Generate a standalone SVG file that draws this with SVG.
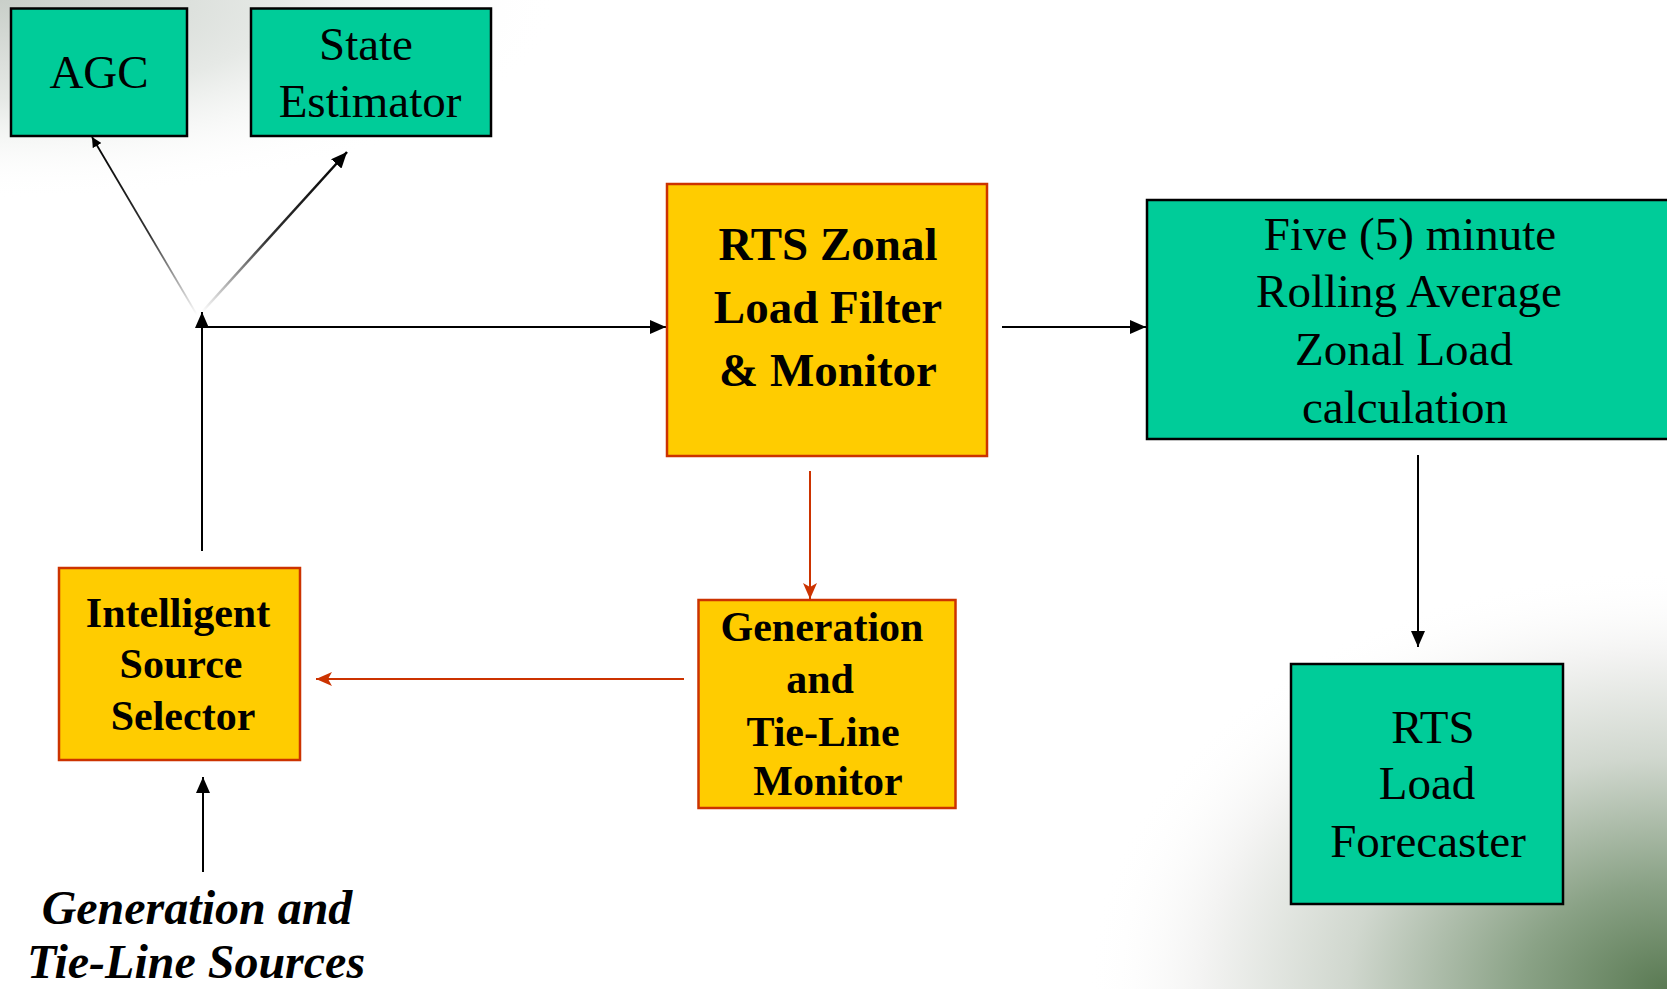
<svg xmlns="http://www.w3.org/2000/svg" width="1667" height="989" viewBox="0 0 1667 989">
<defs>
<radialGradient id="bgTL" cx="0" cy="0" r="1" gradientUnits="userSpaceOnUse" gradientTransform="translate(0,0) scale(560,200)">
<stop offset="0" stop-color="#c9cfc9"/>
<stop offset="0.5" stop-color="#e6e9e6"/>
<stop offset="1" stop-color="#ffffff" stop-opacity="0"/>
</radialGradient>
<radialGradient id="bgBR" cx="0" cy="0" r="1" gradientUnits="userSpaceOnUse" gradientTransform="translate(1667,989) scale(580,420)">
<stop offset="0" stop-color="#5a7a53"/>
<stop offset="0.25" stop-color="#8aa286"/>
<stop offset="0.55" stop-color="#d0d7ce"/>
<stop offset="0.8" stop-color="#f3f3f2"/>
<stop offset="1" stop-color="#ffffff" stop-opacity="0"/>
</radialGradient>
<linearGradient id="fadeA" gradientUnits="userSpaceOnUse" x1="197" y1="315" x2="92" y2="137">
<stop offset="0" stop-color="#000" stop-opacity="0"/>
<stop offset="0.45" stop-color="#000" stop-opacity="0.8"/>
<stop offset="1" stop-color="#000"/>
</linearGradient>
<linearGradient id="fadeB" gradientUnits="userSpaceOnUse" x1="202" y1="312" x2="347" y2="152">
<stop offset="0" stop-color="#000" stop-opacity="0"/>
<stop offset="0.45" stop-color="#000" stop-opacity="0.8"/>
<stop offset="1" stop-color="#000"/>
</linearGradient>
<marker id="ah" markerWidth="10" markerHeight="10" viewBox="0 0 10 10" refX="10" refY="5" orient="auto" markerUnits="userSpaceOnUse" >
<path d="M0,0 L10,5 L0,10 z" fill="#000"/>
</marker>
<marker id="ahBig" markerWidth="16" markerHeight="14" viewBox="0 0 16 14" refX="16" refY="7" orient="auto" markerUnits="userSpaceOnUse">
<path d="M0,0 L16,7 L0,14 z" fill="#000"/>
</marker>
<marker id="ahRed" markerWidth="16" markerHeight="14" viewBox="0 0 16 14" refX="16" refY="7" orient="auto" markerUnits="userSpaceOnUse">
<path d="M0,0 L16,7 L0,14 L4,7 z" fill="#cc3300"/>
</marker>
</defs>
<style>
.teal{fill:#00cc99;stroke:#000;stroke-width:2.5}
.gold{fill:#ffcc00;stroke:#cc3300;stroke-width:2.5}
.reg{font-family:"Liberation Serif","Times New Roman",serif;font-size:47px;fill:#000;text-anchor:middle}
.bold{font-family:"Liberation Serif","Times New Roman",serif;font-weight:bold;font-size:47px;fill:#000;text-anchor:middle}
.bsm{font-family:"Liberation Serif","Times New Roman",serif;font-weight:bold;font-size:42px;fill:#000;text-anchor:middle}
.bi{font-family:"Liberation Serif","Times New Roman",serif;font-weight:bold;font-style:italic;font-size:48px;fill:#000;text-anchor:middle}
.blk{stroke:#000;stroke-width:2;fill:none}
.red{stroke:#cc3300;stroke-width:2;fill:none}
</style>
<rect x="0" y="0" width="1667" height="989" fill="#ffffff"/>
<rect x="0" y="0" width="1667" height="989" fill="url(#bgTL)"/>
<rect x="0" y="0" width="1667" height="989" fill="url(#bgBR)"/>

<g id="connectors">
<line x1="197" y1="315" x2="92" y2="137" stroke="url(#fadeA)" stroke-width="1.8" marker-end="url(#ah)"/>
<line x1="202" y1="312" x2="347" y2="152" stroke="url(#fadeB)" stroke-width="2.5" marker-end="url(#ahBig)"/>
<line class="blk" x1="202" y1="551" x2="202" y2="312" marker-end="url(#ahBig)"/>
<line class="blk" x1="202" y1="327" x2="666" y2="327" marker-end="url(#ahBig)"/>
<line class="blk" x1="1002" y1="327" x2="1146" y2="327" marker-end="url(#ahBig)"/>
<line class="blk" x1="1418" y1="455" x2="1418" y2="647" marker-end="url(#ahBig)"/>
<line class="red" x1="810" y1="471" x2="810" y2="599" marker-end="url(#ahRed)"/>
<line class="red" x1="684" y1="679" x2="316" y2="679" marker-end="url(#ahRed)"/>
<line class="blk" x1="203" y1="872" x2="203" y2="777" marker-end="url(#ahBig)"/>
</g>

<g id="agc">
<rect class="teal" x="11" y="8.5" width="176" height="127.5"/>
<text class="reg" x="99" y="88">AGC</text>
</g>

<g id="state-estimator">
<rect class="teal" x="251" y="8.5" width="240" height="127.5"/>
<text class="reg" x="366" y="60">State</text>
<text class="reg" x="370" y="117">Estimator</text>
</g>

<g id="rts-zonal">
<rect class="gold" x="667" y="184" width="320" height="272"/>
<text class="bold" x="828" y="260">RTS Zonal</text>
<text class="bold" x="828" y="323">Load Filter</text>
<text class="bold" x="828" y="386">&amp; Monitor</text>
</g>

<g id="five-minute">
<rect class="teal" x="1147" y="200" width="540" height="239"/>
<text class="reg" x="1410" y="250">Five (5) minute</text>
<text class="reg" x="1409" y="307">Rolling Average</text>
<text class="reg" x="1404" y="365">Zonal Load</text>
<text class="reg" x="1405" y="423">calculation</text>
</g>

<g id="rts-load-forecaster">
<rect class="teal" x="1291" y="664" width="272" height="240"/>
<text class="reg" x="1433" y="743">RTS</text>
<text class="reg" x="1427" y="799">Load</text>
<text class="reg" x="1428" y="857">Forecaster</text>
</g>

<g id="gen-tie-monitor">
<rect class="gold" x="698.5" y="600" width="257" height="208"/>
<text class="bsm" x="822" y="641">Generation</text>
<text class="bsm" x="820" y="693">and</text>
<text class="bsm" x="823" y="746">Tie-Line</text>
<text class="bsm" x="828" y="795">Monitor</text>
</g>

<g id="intelligent-source-selector">
<rect class="gold" x="59" y="568" width="241" height="192"/>
<text class="bsm" x="178" y="627">Intelligent</text>
<text class="bsm" x="181" y="678">Source</text>
<text class="bsm" x="183" y="730">Selector</text>
</g>

<g id="sources-label">
<text class="bi" x="197" y="924">Generation and</text>
<text class="bi" x="196" y="978">Tie-Line Sources</text>
</g>
</svg>
